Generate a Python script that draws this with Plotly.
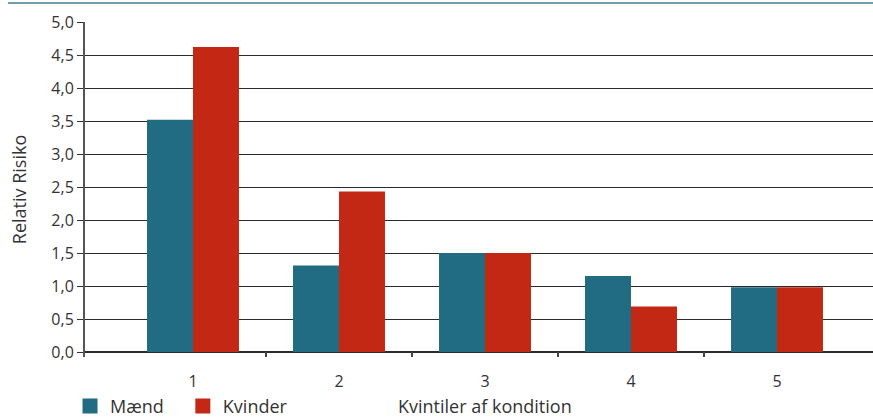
import plotly.graph_objects as go

categories = [1, 2, 3, 4, 5]
maend = [3.52, 1.31, 1.50, 1.15, 0.98]
kvinder = [4.62, 2.43, 1.50, 0.69, 0.98]
ytick_vals = [0, 0.5, 1, 1.5, 2, 2.5, 3, 3.5, 4, 4.5, 5]
ytick_text = ["0,0", "0,5", "1,0", "1,5", "2,0", "2,5", "3,0", "3,5", "4,0", "4,5", "5,0"]
xtick_text = ["1", "2", "3", "4", "5"]
boundaries = [1.5, 2.5, 3.5, 4.5]
series_names = ["Mænd", "Kvinder"]

TEAL = "#216C82"
RED = "#C32815"
FONT = "Open Sans"
TXT = "#333333"
FS = 16
FS_T = 18

xr = [0.2603, 5.6575]
yr = [-0.0758, 5]

fig = go.Figure()
fig.add_trace(go.Bar(x=categories, y=maend, name=series_names[0], showlegend=False,
                     marker=dict(color=TEAL, line=dict(width=0))))
fig.add_trace(go.Bar(x=categories, y=kvinder, name=series_names[1], showlegend=False,
                     marker=dict(color=RED, line=dict(width=0))))
# legend entries with larger square swatches
for nm, col, pad in zip(series_names, [TEAL, RED], ["\u00a0\u00a0\u00a0", ""]):
    fig.add_trace(go.Scatter(x=[None], y=[None], mode="markers", name=nm + pad,
                             marker=dict(symbol="square", size=15, color=col, line=dict(width=0))))
fig.add_trace(go.Scatter(x=[categories[0]], y=[0], xaxis="x2", mode="markers",
                         marker=dict(opacity=0), showlegend=False, hoverinfo="skip"))

fig.update_layout(
    width=873, height=417,
    margin=dict(l=85, r=0, t=22, b=60, autoexpand=False),
    paper_bgcolor="white", plot_bgcolor="white",
    barmode="group", bargap=0.37, bargroupgap=0,
    font=dict(family=FONT, size=FS, color=TXT),
    showlegend=True,
    legend=dict(orientation="h", x=-0.019, y=-0.147, xanchor="left", yanchor="middle",
                font=dict(size=FS_T, color=TXT), itemwidth=30, traceorder="normal",
                bgcolor="rgba(0,0,0,0)", tracegroupgap=0),
    xaxis=dict(range=xr, tickmode="array", tickvals=categories, ticktext=xtick_text,
               ticks="", showgrid=False, zeroline=False, showline=False, automargin=False,
               ticklabelstandoff=13, tickfont=dict(size=FS, color=TXT)),
    xaxis2=dict(range=xr, overlaying="x", anchor="y", side="bottom", tickmode="array",
                tickvals=boundaries, ticktext=["", "", "", ""], ticks="inside", ticklen=5,
                tickwidth=1.5, tickcolor="#444444", showgrid=False, zeroline=False,
                showline=False, showticklabels=False, automargin=False),
    yaxis=dict(range=yr, tickmode="array", tickvals=ytick_vals, ticktext=ytick_text,
               showgrid=True, gridcolor="#2b2b2b", gridwidth=1, automargin=False,
               zeroline=True, zerolinecolor="#2b2b2b", zerolinewidth=1.5,
               showline=True, linecolor="#555555", linewidth=2,
               ticks="outside", ticklen=6, tickcolor="#333333", tickwidth=1,
               tickfont=dict(size=FS, color=TXT),
               title=dict(text="Relativ Risiko", font=dict(size=FS_T, color=TXT), standoff=20)),
    shapes=[dict(type="line", xref="paper", yref="paper", x0=-0.0977, x1=1,
                 y0=1.0567, y1=1.0567, line=dict(color="#3E7F92", width=1.5))],
    annotations=[dict(text="Kvintiler af kondition", xref="x", yref="paper", x=3, y=-0.146,
                      xanchor="center", yanchor="middle", showarrow=False,
                      font=dict(size=FS_T, color=TXT))],
)

fig.write_html("out.html", config={"displayModeBar": False},
               post_script="document.body.style.margin='0';document.body.style.overflow='hidden';")
